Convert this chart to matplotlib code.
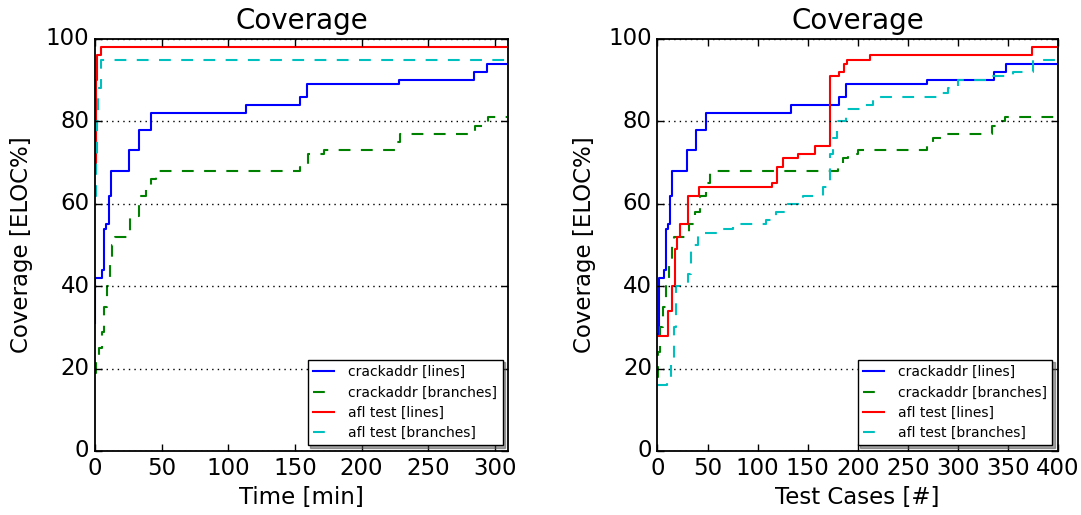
import matplotlib
matplotlib.use("Agg")
import matplotlib.pyplot as plt

plt.style.use("classic")
plt.rcParams.update({
    "figure.facecolor": "white",
    "savefig.facecolor": "white",
    "font.family": ["DejaVu Sans"],
    "font.size": 16.5,
    "axes.linewidth": 1.3,
    "lines.scale_dashes": False,
})

# ---------------- data ----------------
# Left panel: time [min]
left_blue_t = [0, 0.3, 5, 6.5, 8.5, 10.5, 12, 25.8, 33.3, 41.7, 113, 154, 159.3, 227.8, 284.3, 294.3, 310]
left_blue_v = [31, 42, 44, 54, 55, 62, 68, 73, 78, 82, 84, 86, 89, 90, 92, 94, 94]

left_green_t = [0, 1, 3, 5, 7, 9, 11, 13, 15, 26, 33.3, 38.5, 42, 46, 153.8, 160, 172, 226, 229, 285, 295, 310]
left_green_v = [19, 22, 25, 29, 35, 40, 46, 50, 52, 57, 62, 64, 66, 68, 69, 72, 73, 75, 77, 79, 81, 81]

left_red_t = [0, 0.4, 0.8, 1.2, 4.5, 310]
left_red_v = [68, 80, 90, 96, 98, 98]

left_cyan_t = [0, 0.8, 1.5, 2.5, 4.5, 310]
left_cyan_v = [62, 70, 80, 88, 95, 95]

# Right panel: test cases [#]
right_blue_x = [0, 1.8, 6.5, 8.5, 10.8, 12.5, 14.2, 29.8, 38.2, 48.5, 133.2, 181.5, 188.5, 269.2, 335.8, 347.8, 400]
right_blue_v = [28.5, 42, 44, 54, 55, 62, 68, 73, 78, 82, 84, 86, 89, 90, 92, 94, 94]

right_green_x = [0, 1, 3, 6, 9, 12, 15, 17, 28, 31, 37, 42, 48.5, 52.5, 180.8, 185, 190, 200, 269, 275, 285, 334, 340, 347.5, 400]
right_green_v = [18, 24, 30, 35, 40, 46, 50, 52, 53, 55, 58, 62, 65, 68, 69, 71, 72, 73, 75, 76, 77, 79, 80, 81, 81]

right_red_x = [0, 10.8, 15, 17.5, 20, 22.5, 30.2, 41.5, 114.2, 119.2, 125.8, 140.8, 157.5, 172.5, 181.8, 185.8, 189, 212.5, 374.2, 400]
right_red_v = [28, 34, 40, 49, 52, 55, 62, 64, 65, 69, 71, 72, 74, 91, 92, 94, 95, 96, 98, 98]

right_cyan_x = [0, 10, 14, 16.5, 18.5, 30.8, 33, 40.8, 60, 75, 108, 118, 128, 145, 165, 172.5, 175, 179, 188, 205, 215, 280, 290, 300, 330, 355, 375, 400]
right_cyan_v = [16, 18, 22, 30, 40, 43, 50, 53, 54, 55, 56, 58, 60, 62, 64, 72, 76, 80, 83, 84, 86, 87, 88, 90, 91, 92, 95, 95]

labels = ["crackaddr [lines]", "crackaddr [branches]", "afl test [lines]", "afl test [branches]"]
left_xticks = [0, 50, 100, 150, 200, 250, 300]
right_xticks = [0, 50, 100, 150, 200, 250, 300, 350, 400]
yticks = [0, 20, 40, 60, 80, 100]

# ---------------- figure ----------------
fig = plt.figure(figsize=(10.81, 5.15), dpi=100)
ax1 = fig.add_axes([0.0879, 0.1243, 0.3821, 0.8])
ax2 = fig.add_axes([0.6082, 0.1243, 0.3705, 0.8])

DASH = (8.5, 7.5)

def draw(ax, series, xlabel, xlim, xticks):
    (bt, bv), (gt, gv), (rt, rv), (ct, cv) = series
    ax.plot(bt, bv, color="b", lw=1.5, drawstyle="steps-post", label=labels[0])
    ax.plot(gt, gv, color="g", lw=1.5, drawstyle="steps-post", dashes=DASH, label=labels[1])
    ax.plot(rt, rv, color="r", lw=1.5, drawstyle="steps-post", label=labels[2])
    ax.plot(ct, cv, color="c", lw=1.5, drawstyle="steps-post", dashes=DASH, label=labels[3])
    ax.set_xlim(*xlim)
    ax.set_ylim(0, 100)
    ax.set_xticks(xticks)
    ax.set_yticks(yticks)
    ax.yaxis.grid(True, linestyle=":", color="k", lw=1.0)
    ax.xaxis.grid(False)
    ax.set_title("Coverage", fontsize=20, pad=7)
    ax.set_xlabel(xlabel)
    ax.set_ylabel("Coverage [ELOC%]", labelpad=9)
    ax.tick_params(direction="in", top=True, right=True, length=5, width=1)
    leg = ax.legend(loc="lower right", fontsize=10, shadow=True, fancybox=False,
                    handlelength=1.5, numpoints=1, borderaxespad=0.4,
                    labelspacing=0.45, handletextpad=1.0, borderpad=0.4)
    leg.get_frame().set_linewidth(1.0)

draw(ax1, [(left_blue_t, left_blue_v), (left_green_t, left_green_v),
           (left_red_t, left_red_v), (left_cyan_t, left_cyan_v)],
     "Time [min]", (0, 310), left_xticks)
draw(ax2, [(right_blue_x, right_blue_v), (right_green_x, right_green_v),
           (right_red_x, right_red_v), (right_cyan_x, right_cyan_v)],
     "Test Cases [#]", (0, 400), right_xticks)

fig.savefig("out.png", dpi=100)
